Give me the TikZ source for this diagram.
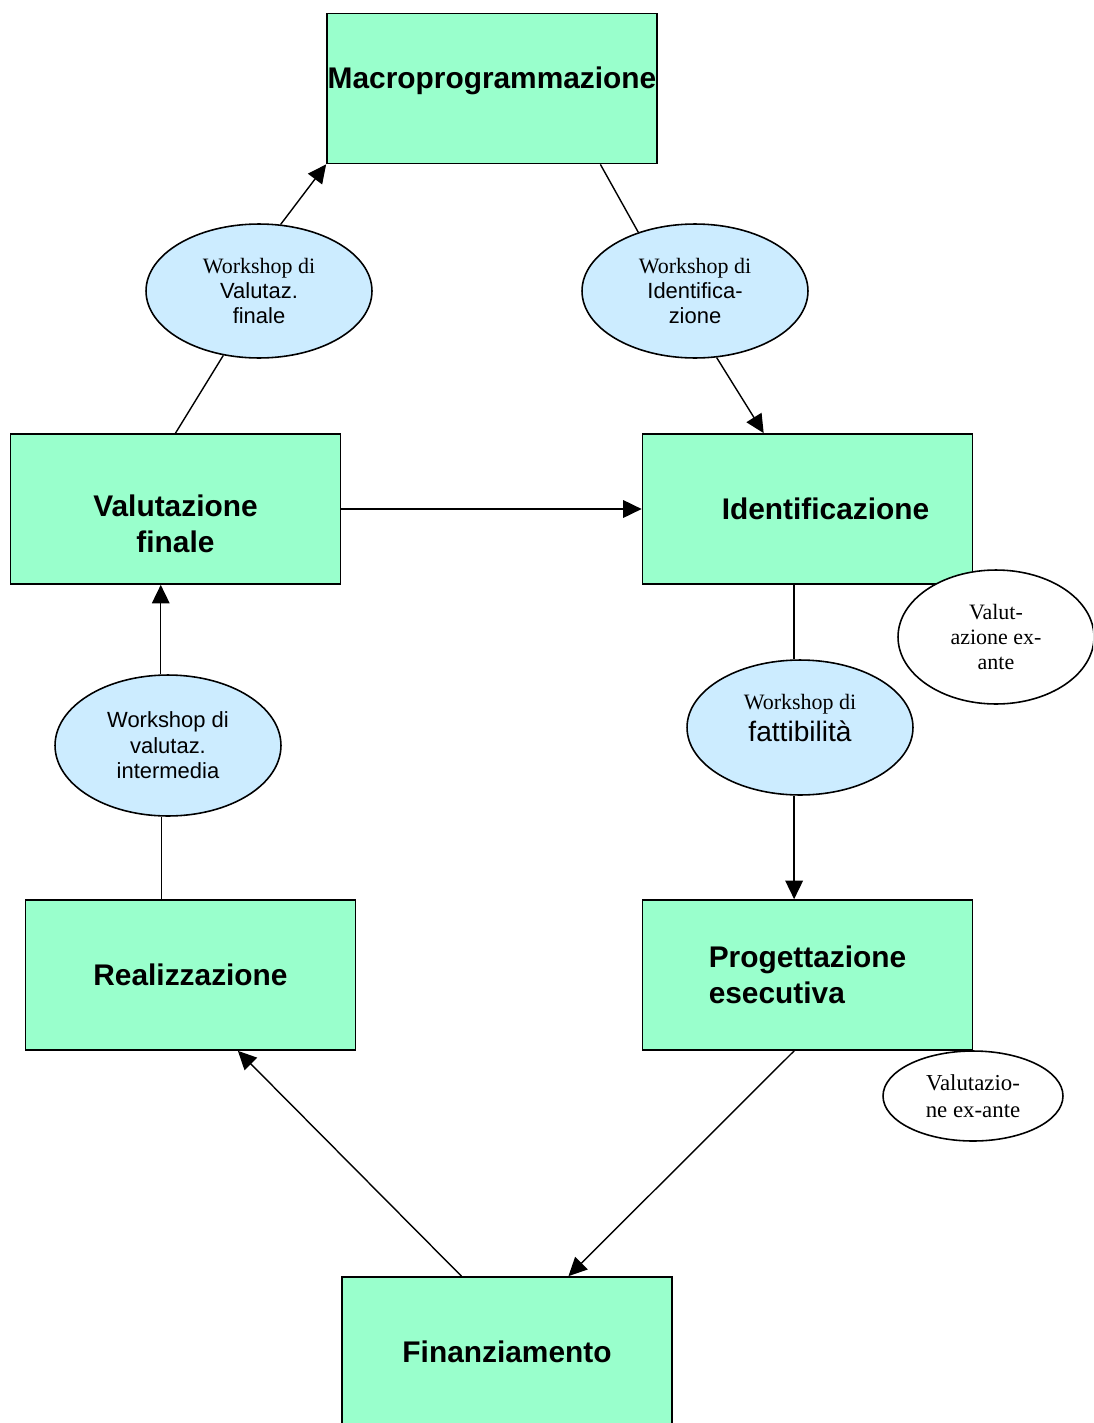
\documentclass[tikz,border=0pt]{standalone}
\usepackage{fontspec}
\setmainfont{Liberation Sans}
\newfontfamily\timesfont{Liberation Serif}
\usetikzlibrary{shapes.geometric,arrows.meta}

\definecolor{fasecol}{RGB}{153,255,204}
\definecolor{wscol}{RGB}{204,236,255}

\begin{document}
\begin{tikzpicture}[x=0.02cm,y=-0.02cm,
    fase/.style={draw,line width=1pt,fill=fasecol,minimum width=6.6cm,minimum height=3cm,inner sep=0pt,align=center,font=\fontsize{17}{20.5}\selectfont\bfseries},
    wshop/.style={ellipse,draw,line width=0.9pt,fill=wscol,minimum width=4.52cm,minimum height=2.7cm,inner sep=0pt,align=center,font=\fontsize{12.5}{14.5}\selectfont},
    valut/.style={ellipse,draw,line width=0.9pt,fill=white,inner sep=0pt,align=center,font=\timesfont\fontsize{12.5}{14.5}\selectfont},
    freccia/.style={-{Triangle[length=10.5pt,width=10pt]},line width=0.8pt},
    linea/.style={line width=0.8pt}]

\fill[white] (0,0) rectangle (1093,1423);
\clip (0,0) rectangle (1093,1423);

% fasi del ciclo
\node[fase,text height=0pt,text depth=0pt] (macro) at (492,88.5) {\makebox[0pt]{Macroprogrammazione}};
\node[fase,text height=1.76cm,text depth=0pt] (valfin) at (175.5,509) {Valutazione\\finale};
\node[fase] (ident) at (807.5,509) {\hspace*{0.72cm}Identificazione};
\node[fase] (real) at (190.5,975) {Realizzazione};
\node[fase,align=left] (prog) at (807.5,975) {Progettazione\\esecutiva};
\node[fase] (fin) at (507,1352) {Finanziamento};

% workshop
\node[wshop,minimum height=2.68cm] (wsvf) at (259,291) {{\timesfont Workshop di}\\Valutaz.\\finale};
\node[wshop,minimum height=2.68cm] (wsid) at (695,291) {{\timesfont Workshop di}\\Identifica-\\zione};
\node[wshop,text height=0.54cm,text depth=0pt] (wsfat) at (800,727.5) {{\timesfont Workshop di}\\[3.4pt]{\fontsize{16}{17}\selectfont fattibilità}};
\node[wshop,minimum height=2.82cm] (wsint) at (168,745.5) {Workshop di\\valutaz.\\intermedia};

% valutazioni ex-ante
\node[valut,minimum width=3.92cm,minimum height=2.68cm] (exante) at (996,637) {Valut-\\azione ex-\\ante};
\node[valut,minimum width=3.6cm,minimum height=1.8cm,font=\timesfont\fontsize{13}{15.5}\selectfont] (exanteb) at (973,1096) {Valutazio-\\ne ex-ante};

\draw[linea] (valfin.north) -- (wsvf.241);
\draw[freccia] (wsvf.72) -- (macro.south west);
\draw[linea] (macro.-35.5) -- (wsid.134);
\draw[freccia] (wsid.-72) -- (ident.120.7);
\draw[freccia] (valfin.east) -- (ident.west);
\draw[linea] (ident.260) -- (ident.260 |- wsfat.north);
\draw[freccia] (ident.260 |- wsfat.south) -- (ident.260 |- prog.north);
\draw[freccia] (prog.260) -- (fin.51);
\draw[freccia] (fin.121) -- (real.-58.2);
\draw[linea] (real.111.5) -- (real.111.5 |- wsint.south);
\draw[freccia] (valfin.259 |- wsint.north) -- (valfin.259);

\end{tikzpicture}
\end{document}
